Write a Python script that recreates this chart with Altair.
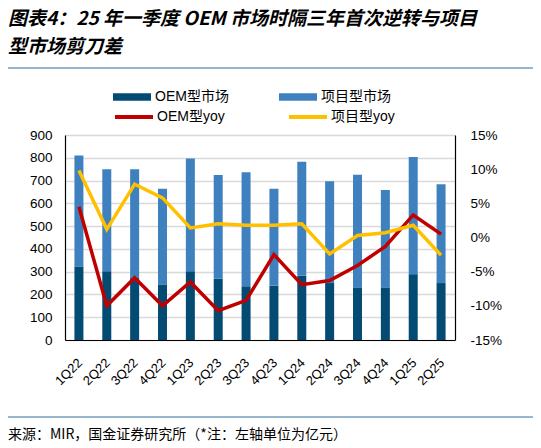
import altair as alt
import pandas as pd

# 季度与数值（左轴：亿元；右轴：同比 %）
quarters = ['1Q22', '2Q22', '3Q22', '4Q22', '1Q23', '2Q23', '3Q23',
            '4Q23', '1Q24', '2Q24', '3Q24', '4Q24', '1Q25', '2Q25']
oem_market = [323, 302, 275, 244, 302, 269, 236, 238, 283, 250, 231, 231, 289, 250]
project_market = [487, 448, 475, 420, 495, 455, 501, 426, 500, 447, 494, 427, 514, 434]
oem_yoy = [4.5, -10.0, -5.9, -10.0, -6.5, -10.7, -9.2, -2.5, -6.9, -6.3, -4.1, -1.3, 3.3, 0.5]
project_yoy = [9.8, 1.2, 7.8, 5.8, 1.4, 2.0, 1.8, 1.8, 2.0, -2.4, 0.3, 0.7, 1.8, -2.6]

bar_names = ['OEM型市场', '项目型市场']
line_names = ['OEM型yoy', '项目型yoy']
bar_colors = ['#034b73', '#3f80bf']
line_colors = ['#c00000', '#ffc000']

title_lines = ['图表4：25 年一季度 OEM 市场时隔三年首次逆转与项目', '型市场剪刀差']
source_note = '来源：MIR，国金证券研究所（*注：左轴单位为亿元）'

CJK = 'Noto Sans CJK SC'
LATIN = 'Liberation Sans, Noto Sans CJK SC'

# 数据整理成 tidy 格式
df_bars = pd.DataFrame({'季度': quarters, bar_names[0]: oem_market, bar_names[1]: project_market})
df_bars = df_bars.melt(id_vars=['季度'], var_name='市场', value_name='规模')
df_bars['顺序'] = df_bars['市场'].map({bar_names[0]: 0, bar_names[1]: 1})

df_lines = pd.DataFrame({'季度': quarters, line_names[0]: oem_yoy, line_names[1]: project_yoy})
df_lines = df_lines.melt(id_vars=['季度'], var_name='系列', value_name='yoy')

x_enc = alt.X('季度:N', sort=quarters,
              scale=alt.Scale(paddingInner=0, paddingOuter=0),
              axis=alt.Axis(title=None, labelAngle=-45, ticks=False, labelPadding=16,
                            labelOffset=-3, labelFont=LATIN, labelFontSize=13,
                            labelColor='#000', domainColor='#000', domainWidth=1.2))

# 堆叠柱状图（左轴）
bars = alt.Chart(df_bars).mark_bar(size=9).encode(
    x=x_enc,
    y=alt.Y('规模:Q', stack='zero', scale=alt.Scale(domain=[0, 900]),
            axis=alt.Axis(title=None, values=list(range(0, 901, 100)), ticks=False,
                          labelPadding=13, labelFont=LATIN, labelFontSize=13.5,
                          labelColor='#000', domainColor='#000', domainWidth=1.2,
                          gridColor='#d9d9d9', gridWidth=1.5)),
    fill=alt.Fill('市场:N', scale=alt.Scale(domain=bar_names, range=bar_colors),
                  legend=alt.Legend(title=None, orient='none', legendX=48, legendY=-57,
                                    direction='horizontal', symbolType='M-1,-0.2H1V0.2H-1Z',
                                    symbolSize=1444, symbolStrokeWidth=0, labelOffset=4,
                                    columnPadding=50, labelFont=LATIN, labelFontSize=14,
                                    labelColor='#000')),
    order=alt.Order('顺序:Q')
)

# 同比折线（右轴）
lines = alt.Chart(df_lines).mark_line(strokeWidth=3.5).encode(
    x=x_enc,
    y=alt.Y('yoy:Q', scale=alt.Scale(domain=[-15, 15]),
            axis=alt.Axis(title=None, orient='right', values=list(range(-15, 16, 5)),
                          labelExpr="datum.value + '%'", ticks=False, grid=False,
                          labelPadding=15, labelFont=LATIN, labelFontSize=13.5,
                          labelColor='#000', domainColor='#000', domainWidth=1.2)),
    stroke=alt.Stroke('系列:N', scale=alt.Scale(domain=line_names, range=line_colors),
                      legend=alt.Legend(title=None, orient='none', legendX=48, legendY=-39,
                                        direction='horizontal', symbolType='stroke',
                                        symbolSize=1444, symbolStrokeWidth=4, labelOffset=2,
                                        columnPadding=56, labelFont=LATIN, labelFontSize=14,
                                        labelColor='#000'))
)

# 标题、分隔线、来源
one = pd.DataFrame({'k': [0]})
title_layers = [
    alt.Chart(one).mark_text(text=t, x=-57, y=y, align='left', baseline='middle',
                             font=CJK, fontSize=19, fontWeight='bold',
                             fontStyle='italic', color='#000')
    for t, y in zip(title_lines, [-116.5, -88])
]
top_rule = alt.Chart(one).mark_rule(color='#2f6f9f', strokeWidth=1).encode(
    x=alt.value(-60), x2=alt.value(470), y=alt.value(-67))
bottom_rule = alt.Chart(one).mark_rule(color='#2f6f9f', strokeWidth=1).encode(
    x=alt.value(-60), x2=alt.value(470), y=alt.value(282))
source = alt.Chart(one).mark_text(text=source_note, x=-57, y=300, align='left',
                                  baseline='middle', font=CJK, fontSize=14, color='#000')

chart = alt.layer(bars, lines, *title_layers, top_rule, bottom_rule, source).resolve_scale(
    y='independent', fill='independent', stroke='independent'
).properties(
    width=390, height=205,
    autosize=alt.AutoSizeParams(type='none'),
    padding={'left': 57, 'top': 127, 'right': 78, 'bottom': 102}
).configure_view(stroke=None)

chart.save("out.html", embed_options={"renderer": "svg", "actions": False})
